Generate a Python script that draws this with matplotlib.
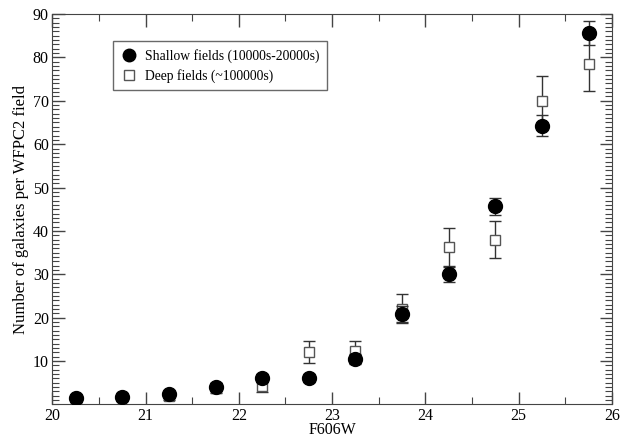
import numpy as np
import matplotlib.pyplot as plt
from matplotlib.lines import Line2D
from matplotlib.ticker import MultipleLocator

plt.rcParams['font.family'] = ['Liberation Serif', 'DejaVu Serif']

# magnitude bins (F606W)
mag = [20.25, 20.75, 21.25, 21.75, 22.25, 22.75, 23.25, 23.75, 24.25, 24.75, 25.25, 25.75]

# shallow fields (10000s-20000s)
shallow = [1.4, 1.8, 2.3, 4.1, 6.0, 6.1, 10.5, 20.9, 30.0, 45.7, 64.3, 85.6]
shallow_err = [0.4, 0.5, 0.6, 0.8, 0.9, 0.9, 1.1, 1.8, 1.7, 2.0, 2.4, 2.8]

# deep fields (~100000s)
deep = [1.2, 1.6, 2.0, 3.8, 4.3, 12.0, 12.3, 22.1, 36.3, 38.0, 70.0, 78.4]
deep_err = [0.6, 0.7, 0.9, 1.2, 1.4, 2.5, 2.3, 3.4, 4.4, 4.3, 5.8, 6.2]

fig = plt.figure(figsize=(6.22, 4.4), dpi=100)
ax = fig.add_axes([0.084, 0.081, 0.9, 0.887])

ax.errorbar(mag, deep, yerr=deep_err, fmt='s', ms=7, mfc='white', mec='#555555',
            mew=1.0, ecolor='#333333', elinewidth=1.0, capsize=4, capthick=1.0,
            zorder=2)
ax.errorbar(mag, shallow, yerr=shallow_err, fmt='o', ms=10, mfc='black', mec='black',
            ecolor='#333333', elinewidth=1.0, capsize=4, capthick=1.0,
            zorder=3)

ax.set_xlim(20, 26)
ax.set_ylim(0, 90)
ax.set_yticks(np.arange(10, 91, 10))
ax.xaxis.set_major_locator(MultipleLocator(1))
ax.xaxis.set_minor_locator(MultipleLocator(0.5))
ax.yaxis.set_minor_locator(MultipleLocator(1))
ax.tick_params(which='both', direction='in', top=True, right=True,
               labelsize=11.5, color='#444444')
ax.tick_params(which='major', length=9, width=1, pad=2.5)
ax.tick_params(which='minor', length=5, width=0.8)
for s in ax.spines.values():
    s.set_color('#444444')

ax.set_xlabel('F606W', fontsize=11.5, labelpad=-1)
ax.set_ylabel('Number of galaxies per WFPC2 field', fontsize=12, labelpad=3)

handles = [
    Line2D([], [], ls='none', marker='o', ms=9, mfc='black', mec='black'),
    Line2D([], [], ls='none', marker='s', ms=7, mfc='white', mec='#555555'),
]
labels = ['Shallow fields (10000s-20000s)', 'Deep fields (~100000s)']
ax.legend(handles, labels, loc='upper left', bbox_to_anchor=(0.108, 0.93),
          fontsize=9.8, frameon=True, fancybox=False, edgecolor='#444444',
          handletextpad=0.5, borderpad=0.55, labelspacing=0.45, handlelength=1.3,
          borderaxespad=0)

fig.savefig('out.png', dpi=100)
